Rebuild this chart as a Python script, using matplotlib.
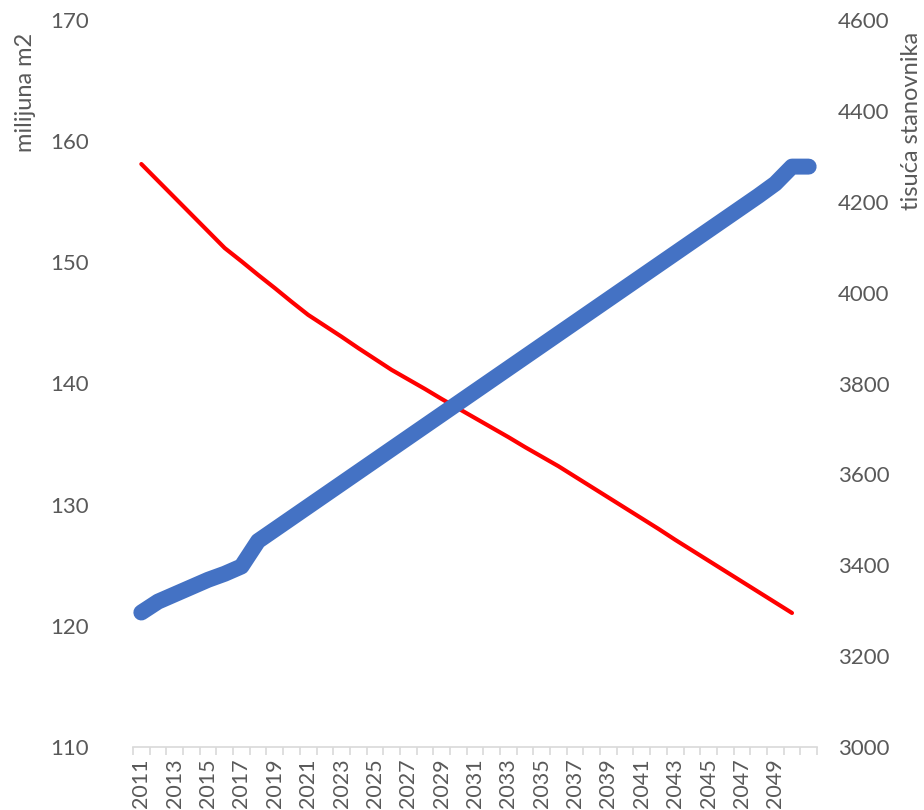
import matplotlib.pyplot as plt
import numpy as np

plt.rcParams['font.family'] = ['Lato', 'DejaVu Sans']

# years on the category axis (last one has no label)
years = list(range(2011, 2052))
tick_labels = [str(y) if (y - 2011) % 2 == 0 and y < 2051 else '' for y in years]

# floor area, million m2 (left axis)
area = [121.1, 122.0, 122.6, 123.2, 123.8, 124.3, 124.9, 127.0, 127.95, 128.9,
        129.85, 130.8, 131.75, 132.7, 133.65, 134.6, 135.55, 136.5, 137.45, 138.4,
        139.35, 140.3, 141.25, 142.2, 143.15, 144.1, 145.05, 146.0, 146.95, 147.9,
        148.85, 149.8, 150.75, 151.7, 152.65, 153.6, 154.55, 155.5, 156.5, 157.9, 157.9]

# population, thousands (right axis), no value for the last year
population = [4283, 4246, 4209, 4172, 4135, 4098, 4069, 4039, 4010, 3980,
              3951, 3927, 3903, 3878, 3854, 3830, 3809, 3788, 3766, 3745,
              3724, 3703, 3682, 3660, 3639, 3618, 3595, 3572, 3549, 3526,
              3503, 3480, 3456, 3433, 3410, 3387, 3364, 3341, 3318, 3295, np.nan]

x = np.arange(len(years))
grey = '#595959'

fig = plt.figure(figsize=(9.24, 8.1), dpi=100)
ax = fig.add_axes([133 / 924, 63 / 810, 684 / 924, 727 / 810])
ax2 = ax.twinx()

ax.plot(x, area, color='#4472C4', lw=11.5, solid_capstyle='round',
        solid_joinstyle='round', zorder=3)
ax2.plot(x, population, color='#FF0000', lw=3, solid_capstyle='round',
         solid_joinstyle='round')
ax.set_zorder(ax2.get_zorder() + 1)
ax.patch.set_visible(False)

ax.set_xlim(-0.5, len(years) - 0.5)
ax.set_ylim(110, 170)
ax2.set_ylim(3000, 4600)
ax.set_yticks(range(110, 171, 10))
ax2.set_yticks(range(3000, 4601, 200))

ax.set_xticks(x)
ax.set_xticklabels(tick_labels, rotation=90, fontsize=15.5, color=grey)
ax.set_xticks(np.arange(-0.5, len(years)), minor=True)
ax.tick_params(axis='x', which='major', length=0, pad=8)
ax.tick_params(axis='x', which='minor', length=6, width=1.2, color='#D9D9D9')

ax.tick_params(axis='y', length=0, labelsize=16, labelcolor=grey, pad=32)
ax2.tick_params(axis='y', length=0, labelsize=16, labelcolor=grey, pad=15)

for a in (ax, ax2):
    for s in ('top', 'left', 'right'):
        a.spines[s].set_visible(False)
ax2.spines['bottom'].set_visible(False)
ax.spines['bottom'].set_color('#D9D9D9')
ax.spines['bottom'].set_linewidth(1.2)

fig.text(25 / 924, 1 - 92 / 810, 'milijuna m2', rotation=90, ha='center',
         va='center', fontsize=17, color=grey)
fig.text(912 / 924, 1 - 121 / 810, 'tisuća stanovnika', rotation=90,
         ha='center', va='center', fontsize=17, color=grey)

fig.savefig('out.png', dpi=100)
